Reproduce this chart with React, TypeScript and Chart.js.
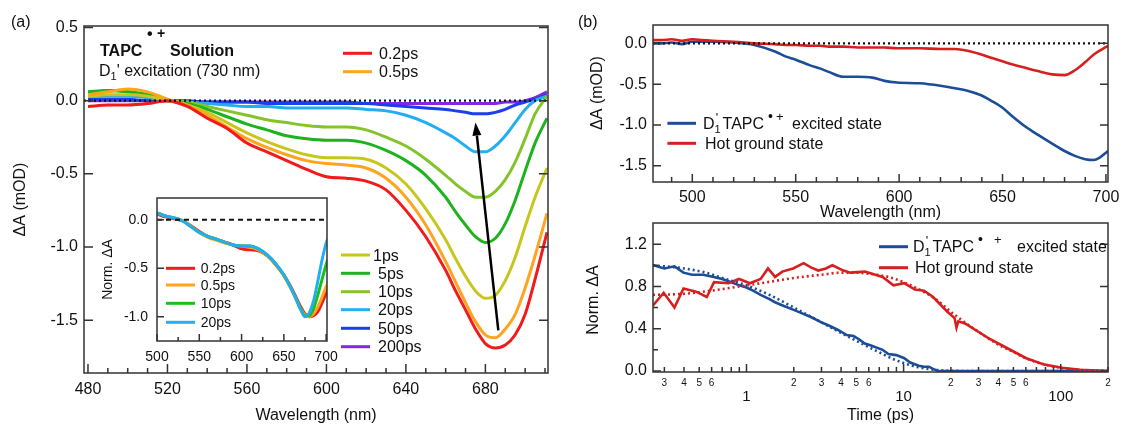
import React, { useEffect, useRef } from 'react';
import { Chart, registerables } from 'chart.js';

Chart.register(...registerables);

const FONT = '"Liberation Sans", Arial, Helvetica, sans-serif';
Chart.defaults.font.family = FONT;
Chart.defaults.color = '#111';

// ================= Panel (a): transient spectra =================
const WL_A = [480, 490, 500, 510, 520, 530, 540, 550, 560, 570, 580, 590, 600, 610, 620, 630, 640, 650, 660, 665, 670, 675, 680, 685, 690, 695, 700, 705, 711];
const A_02 = [-0.04, -0.03, -0.03, -0.02, 0.0, -0.04, -0.12, -0.19, -0.29, -0.35, -0.41, -0.47, -0.52, -0.53, -0.55, -0.61, -0.75, -0.93, -1.16, -1.3, -1.43, -1.56, -1.66, -1.69, -1.67, -1.6, -1.46, -1.22, -0.9];
const A_05 = [0.04, 0.06, 0.08, 0.06, 0.01, -0.03, -0.1, -0.18, -0.26, -0.32, -0.37, -0.41, -0.43, -0.44, -0.46, -0.53, -0.66, -0.85, -1.1, -1.24, -1.38, -1.51, -1.6, -1.62, -1.56, -1.46, -1.28, -1.06, -0.77];
const A_1 = [0.03, 0.04, 0.04, 0.03, 0.0, -0.03, -0.08, -0.15, -0.22, -0.28, -0.33, -0.37, -0.39, -0.39, -0.4, -0.46, -0.57, -0.74, -0.95, -1.08, -1.2, -1.3, -1.35, -1.33, -1.23, -1.07, -0.86, -0.66, -0.46];
const A_5 = [0.06, 0.07, 0.06, 0.04, 0.0, -0.02, -0.06, -0.11, -0.16, -0.2, -0.24, -0.26, -0.27, -0.27, -0.29, -0.34, -0.41, -0.51, -0.66, -0.76, -0.85, -0.93, -0.97, -0.94, -0.84, -0.68, -0.48, -0.29, -0.12];
const A_10 = [0.05, 0.07, 0.06, 0.04, 0.0, -0.01, -0.04, -0.07, -0.1, -0.13, -0.15, -0.17, -0.18, -0.18, -0.2, -0.25, -0.31, -0.4, -0.51, -0.57, -0.62, -0.66, -0.66, -0.62, -0.54, -0.42, -0.26, -0.09, 0.03];
const A_20 = [0.03, 0.03, 0.03, 0.02, 0.0, -0.01, -0.02, -0.03, -0.04, -0.04, -0.05, -0.05, -0.05, -0.05, -0.06, -0.07, -0.1, -0.15, -0.22, -0.26, -0.31, -0.35, -0.35, -0.31, -0.24, -0.15, -0.06, 0.0, 0.03];
const A_50 = [0.01, 0.01, 0.01, 0.0, 0.0, 0.0, -0.01, -0.01, -0.01, -0.02, -0.02, -0.02, -0.02, -0.02, -0.02, -0.03, -0.04, -0.05, -0.06, -0.07, -0.08, -0.09, -0.09, -0.08, -0.06, -0.03, -0.01, 0.01, 0.04];
const A_200 = [0.0, 0.0, 0.0, 0.0, 0.0, -0.01, -0.01, -0.01, -0.01, -0.01, -0.01, -0.01, -0.01, -0.01, -0.02, -0.02, -0.02, -0.02, -0.02, -0.02, -0.02, -0.02, -0.02, -0.02, -0.01, -0.01, 0.0, 0.02, 0.06];
const A_VALUES = [A_02, A_05, A_1, A_5, A_10, A_20, A_50, A_200];
const A_LABELS = ['0.2ps', '0.5ps', '1ps', '5ps', '10ps', '20ps', '50ps', '200ps'];
const A_COLORS = ['#f21a1a', '#ffa41f', '#c6c61c', '#1fb21f', '#84c42a', '#22aef0', '#1a3ef0', '#8426e4'];
const A_X_RANGE = [478, 711.5];
const A_Y_RANGE = [-1.861, 0.51];
const A_X_TICKS = [480, 520, 560, 600, 640, 680];
const A_X_MINOR = [490, 500, 510, 530, 540, 550, 570, 580, 590, 610, 620, 630, 650, 660, 670, 690, 700, 710];
const A_Y_TICKS = [0.5, 0, -0.5, -1, -1.5];
const A_ARROW_TAIL = [686.5, -1.57];
const A_ARROW_HEAD = [675, -0.15];

// ================= Inset: normalized spectra =================
const WL_I = [500, 510, 520, 530, 540, 550, 560, 570, 580, 590, 600, 610, 620, 630, 640, 650, 660, 665, 670, 675, 680, 685, 690, 695, 700, 703];
const I_02 = [0.06, 0.03, 0.01, -0.01, -0.06, -0.12, -0.17, -0.2, -0.23, -0.26, -0.3, -0.31, -0.32, -0.37, -0.46, -0.57, -0.72, -0.81, -0.9, -0.97, -1.0, -0.99, -0.95, -0.86, -0.76, -0.7];
const I_05 = [0.07, 0.04, 0.02, -0.01, -0.06, -0.13, -0.18, -0.21, -0.24, -0.26, -0.27, -0.28, -0.31, -0.37, -0.46, -0.58, -0.74, -0.83, -0.92, -0.98, -1.0, -0.97, -0.9, -0.8, -0.69, -0.64];
const I_10 = [0.07, 0.04, 0.02, -0.01, -0.07, -0.13, -0.17, -0.2, -0.23, -0.26, -0.27, -0.27, -0.3, -0.36, -0.45, -0.57, -0.73, -0.82, -0.92, -0.99, -0.99, -0.92, -0.78, -0.62, -0.46, -0.38];
const I_20 = [0.07, 0.04, 0.02, -0.01, -0.07, -0.13, -0.17, -0.2, -0.23, -0.26, -0.27, -0.27, -0.3, -0.36, -0.45, -0.57, -0.73, -0.83, -0.93, -1.0, -0.96, -0.84, -0.64, -0.42, -0.24, -0.18];
const I_VALUES = [I_02, I_05, I_10, I_20];
const I_LABELS = ['0.2ps', '0.5ps', '10ps', '20ps'];
const I_COLORS = ['#f21a1a', '#ffa41f', '#18c018', '#22aef0'];
const I_X_RANGE = [500, 701];
const I_Y_RANGE = [-1.25, 0.225];
const I_X_TICKS = [500, 550, 600, 650, 700];
const I_X_MINOR = [525, 575, 625, 675];
const I_Y_TICKS = [0, -0.5, -1];

// ================= Panel (b) top: decomposed spectra =================
const WL_B = [481, 485, 490, 495, 500, 505, 510, 520, 530, 540, 545, 550, 557, 562, 566, 573, 580, 587, 593, 599, 610, 620, 627, 633, 639, 645, 650, 655, 661, 667, 674, 680, 685, 690, 694, 697, 701];
const B_EXCITED = [0.0, 0.0, 0.01, -0.01, 0.02, 0.02, 0.02, 0.01, -0.02, -0.1, -0.16, -0.2, -0.27, -0.31, -0.35, -0.41, -0.41, -0.42, -0.46, -0.48, -0.49, -0.52, -0.55, -0.58, -0.63, -0.71, -0.79, -0.9, -1.02, -1.12, -1.23, -1.32, -1.38, -1.42, -1.43, -1.4, -1.32];
const B_HOT = [0.04, 0.04, 0.05, 0.03, 0.05, 0.04, 0.03, 0.02, 0.0, -0.01, -0.02, -0.02, -0.03, -0.03, -0.04, -0.04, -0.05, -0.05, -0.05, -0.06, -0.06, -0.07, -0.07, -0.09, -0.13, -0.18, -0.22, -0.26, -0.3, -0.34, -0.38, -0.39, -0.33, -0.23, -0.14, -0.09, -0.03];
const B_X_RANGE = [481, 701];
const B_Y_RANGE = [-1.7, 0.225];
const B_X_TICKS = [500, 550, 600, 650, 700];
const B_X_MINOR = [490, 510, 520, 530, 540, 560, 570, 580, 590, 610, 620, 630, 640, 660, 670, 680, 690];
const B_Y_TICKS = [0, -0.5, -1, -1.5];
const B_BLUE = '#1c4d98';
const B_RED = '#d81f1f';

// ================= Panel (b) bottom: kinetics =================
const T_EXC = [0.254, 0.3, 0.348, 0.397, 0.45, 0.53, 0.62, 0.7, 0.8, 0.9, 1.0, 1.1, 1.23, 1.4, 1.52, 1.7, 1.98, 2.3, 2.57, 3.0, 3.34, 3.8, 4.35, 4.8, 5.2, 5.66, 6.2, 7.35, 8.0, 9.0, 10.1, 11.0, 12.5, 13.5, 14.5, 15.4, 16.5, 30, 60, 120, 200];
const V_EXC = [1.0, 0.97, 0.99, 0.93, 0.91, 0.91, 0.89, 0.87, 0.84, 0.81, 0.79, 0.76, 0.72, 0.68, 0.65, 0.62, 0.58, 0.54, 0.51, 0.46, 0.43, 0.39, 0.34, 0.33, 0.3, 0.26, 0.24, 0.2, 0.16, 0.15, 0.12, 0.08, 0.05, 0.04, 0.04, 0.02, 0.0, 0.0, 0.0, 0.0, 0.0];
const T_EXC_FIT = [0.254, 0.4, 0.55, 0.7, 1.0, 1.4, 2.0, 3.0, 4.5, 6.5, 9, 12, 16, 25, 200];
const V_EXC_FIT = [1.0, 0.97, 0.93, 0.88, 0.81, 0.72, 0.6, 0.46, 0.32, 0.2, 0.1, 0.04, 0.01, 0.0, 0.0];
const T_HOT = [0.254, 0.297, 0.348, 0.397, 0.477, 0.559, 0.621, 0.766, 0.897, 1.05, 1.23, 1.37, 1.52, 1.69, 1.98, 2.31, 2.57, 2.86, 3.2, 3.52, 4.14, 4.58, 5.66, 7.35, 8.62, 10.1, 11.8, 13.5, 15.4, 19.0, 21.1, 21.7, 22.3, 24.6, 35.6, 46.4, 60.4, 78.6, 102, 133, 200];
const V_HOT = [0.62, 0.74, 0.6, 0.78, 0.75, 0.7, 0.84, 0.83, 0.87, 0.83, 0.87, 0.97, 0.89, 0.94, 0.97, 1.02, 0.98, 0.95, 0.97, 1.0, 0.95, 0.93, 0.94, 0.89, 0.81, 0.83, 0.77, 0.76, 0.7, 0.56, 0.5, 0.41, 0.47, 0.45, 0.3, 0.21, 0.12, 0.06, 0.03, 0.01, 0.0];
const T_HOT_FIT = [0.254, 0.4, 0.6, 1.0, 1.5, 2, 3, 4, 5, 6, 8, 10, 13, 16, 20, 25, 30, 40, 50, 60, 80, 100, 130, 200];
const V_HOT_FIT = [0.72, 0.73, 0.76, 0.81, 0.85, 0.88, 0.91, 0.93, 0.93, 0.92, 0.89, 0.84, 0.76, 0.68, 0.56, 0.45, 0.37, 0.25, 0.18, 0.12, 0.06, 0.03, 0.01, 0.0];
const T_RANGE = [0.254, 200];
const N_RANGE = [-0.01, 1.4];
const T_MAJOR = [1, 10, 100];
const T_MAJOR_LABELS = ['1', '10', '100'];
const T_MINOR = [0.3, 0.4, 0.5, 0.6, 0.7, 0.8, 0.9, 2, 3, 4, 5, 6, 7, 8, 9, 20, 30, 40, 50, 60, 70, 80, 90, 200];
const T_MINOR_LABELS = ['3', '4', '5', '6', '', '', '', '2', '3', '4', '5', '6', '', '', '', '2', '3', '4', '5', '6', '', '', '', '2'];
const N_Y_TICKS = [0, 0.4, 0.8, 1.2];
const N_Y_MINOR = [0.2, 0.6, 1.0];

// ================= helpers =================
const pts = (xs: number[], ys: number[]) => xs.map((x, i) => ({ x, y: ys[i] }));

const framePlugin = (o: any) => ({
  id: 'frame',
  afterDraw(chart: any) {
    const { ctx } = chart;
    const { left, right, top, bottom } = chart.chartArea;
    const xs = chart.scales.x;
    const ys = chart.scales.y;
    ctx.save();
    ctx.strokeStyle = '#333';
    ctx.lineWidth = 1.5;
    ctx.strokeRect(left, top, right - left, bottom - top);
    ctx.beginPath();
    const seg = (a: number, b: number, c: number, d: number) => { ctx.moveTo(a, b); ctx.lineTo(c, d); };
    (o.xMajor || []).forEach((v: number) => { const p = xs.getPixelForValue(v); seg(p, bottom, p, bottom - o.maj); });
    (o.xMinor || []).forEach((v: number) => { const p = xs.getPixelForValue(v); seg(p, bottom, p, bottom - o.min); });
    (o.yMajor || []).forEach((v: number) => { const p = ys.getPixelForValue(v); seg(left, p, left + o.maj, p); });
    (o.yMinor || []).forEach((v: number) => { const p = ys.getPixelForValue(v); seg(left, p, left + o.min, p); });
    (o.yMirror || []).forEach((v: number) => { const p = ys.getPixelForValue(v); seg(right, p, right - o.maj, p); });
    ctx.stroke();
    ctx.restore();
  },
});

type Run = { t: string; s?: number; b?: boolean; dy?: number; dx?: number };
function runs(ctx: CanvasRenderingContext2D, x: number, y: number, list: Run[]) {
  let cx = x;
  ctx.textAlign = 'left';
  ctx.textBaseline = 'alphabetic';
  ctx.fillStyle = '#111';
  for (const r of list) {
    cx += r.dx || 0;
    ctx.font = `${r.b ? 'bold ' : ''}${r.s || 16}px ${FONT}`;
    ctx.fillText(r.t, cx, y + (r.dy || 0));
    cx += ctx.measureText(r.t).width;
  }
}

function legendLine(ctx: CanvasRenderingContext2D, x1: number, x2: number, y: number, color: string, w = 3) {
  ctx.strokeStyle = color;
  ctx.lineWidth = w;
  ctx.beginPath();
  ctx.moveTo(x1, y);
  ctx.lineTo(x2, y);
  ctx.stroke();
}

function vText(ctx: CanvasRenderingContext2D, t: string, x: number, y: number, size = 16) {
  ctx.save();
  ctx.translate(x, y);
  ctx.rotate(-Math.PI / 2);
  ctx.font = `${size}px ${FONT}`;
  ctx.fillStyle = '#111';
  ctx.textAlign = 'center';
  ctx.textBaseline = 'middle';
  ctx.fillText(t, 0, 0);
  ctx.restore();
}

const EXC_LABEL = (wide: boolean): Run[] => [
  { t: 'D' }, { t: '1', s: 11, dy: 4 }, { t: "'", s: 13, dy: -7, dx: -5 }, { t: ' TAPC' },
  { t: '•', s: 14, dy: -8, dx: 4 }, { t: '+', s: 13, dy: -8, dx: wide ? 11 : 3 }, { t: ' excited state', dx: wide ? 11 : 4 },
];

const baseOpts = (padding: any) => ({
  animation: false,
  responsive: false,
  devicePixelRatio: 1,
  layout: { padding },
  plugins: { legend: { display: false }, tooltip: { enabled: false } },
  elements: { point: { radius: 0 } },
});

const NO_GRID = { display: false, drawTicks: false, drawOnChartArea: false };

const linX = (range: number[], ticks: number[], height: number, pad: number, size: number, title?: any) => ({
  type: 'linear',
  min: range[0],
  max: range[1],
  grid: NO_GRID,
  border: { display: false },
  afterBuildTicks: (s: any) => { s.ticks = ticks.map((v) => ({ value: v })); },
  afterFit: (s: any) => { s.height = height; s.paddingLeft = 0; s.paddingRight = 0; },
  ticks: { padding: pad, autoSkip: false, maxRotation: 0, font: { size }, color: '#111', callback: (v: any) => String(v) },
  title: title || { display: false },
});

const linY = (range: number[], ticks: number[], width: number, pad: number, size: number, title?: any) => ({
  type: 'linear',
  min: range[0],
  max: range[1],
  grid: NO_GRID,
  border: { display: false },
  afterBuildTicks: (s: any) => { s.ticks = ticks.map((v) => ({ value: v })); },
  afterFit: (s: any) => { s.width = width; s.paddingTop = 0; s.paddingBottom = 0; },
  ticks: { padding: pad, autoSkip: false, font: { size }, color: '#111', callback: (v: any) => Number(v).toFixed(1) },
  title: title || { display: false },
});

// ================= chart builders =================
function buildA() {
  const series = A_VALUES.map((vals, k) => ({
    label: A_LABELS[k],
    data: pts(WL_A, vals),
    borderColor: A_COLORS[k],
    borderWidth: 3,
    pointRadius: 0,
    cubicInterpolationMode: 'monotone',
  }));
  const zero = {
    label: 'zero', data: pts(A_X_RANGE, [0, 0]), borderColor: '#111', borderWidth: 2.2, borderDash: [2, 3], pointRadius: 0,
  };
  const annot = {
    id: 'annotA',
    afterDraw(chart: any) {
      const ctx = chart.ctx as CanvasRenderingContext2D;
      const xs = chart.scales.x;
      const ys = chart.scales.y;
      ctx.save();
      runs(ctx, 11, 27, [{ t: '(a)' }]);
      runs(ctx, 100, 56, [{ t: 'TAPC', b: true }]);
      runs(ctx, 147, 39, [{ t: '•', b: true, s: 16 }]);
      runs(ctx, 157, 38, [{ t: '+', b: true, s: 14 }]);
      runs(ctx, 170, 56, [{ t: 'Solution', b: true }]);
      runs(ctx, 99, 76, [{ t: 'D' }, { t: '1', s: 11, dy: 4 }, { t: "' excitation (730 nm)" }]);
      const upper = [53.3, 71.7];
      upper.forEach((y, i) => {
        legendLine(ctx, 343, 372, y, A_COLORS[i]);
        runs(ctx, 379, y + 5.7, [{ t: A_LABELS[i] }]);
      });
      const lower = [255, 273.3, 291.7, 309.7, 328.3, 346.7];
      lower.forEach((y, i) => {
        legendLine(ctx, 341, 370, y, A_COLORS[i + 2]);
        runs(ctx, i === 0 ? 373 : 378, y + 5.7, [{ t: A_LABELS[i + 2] }]);
      });
      const x1 = xs.getPixelForValue(A_ARROW_TAIL[0]);
      const y1 = ys.getPixelForValue(A_ARROW_TAIL[1]);
      const x2 = xs.getPixelForValue(A_ARROW_HEAD[0]);
      const y2 = ys.getPixelForValue(A_ARROW_HEAD[1]);
      const ang = Math.atan2(y2 - y1, x2 - x1);
      const hl = 13;
      const hw = 4.5;
      const bx = x2 - hl * Math.cos(ang);
      const by = y2 - hl * Math.sin(ang);
      ctx.strokeStyle = '#000';
      ctx.fillStyle = '#000';
      ctx.lineWidth = 2.5;
      ctx.beginPath();
      ctx.moveTo(x1, y1);
      ctx.lineTo(bx, by);
      ctx.stroke();
      ctx.beginPath();
      ctx.moveTo(x2, y2);
      ctx.lineTo(bx + hw * Math.sin(ang), by - hw * Math.cos(ang));
      ctx.lineTo(bx - hw * Math.sin(ang), by + hw * Math.cos(ang));
      ctx.closePath();
      ctx.fill();
      ctx.restore();
    },
  };
  return {
    type: 'line',
    data: { datasets: [zero, ...series] },
    options: {
      ...baseOpts({ top: 26, right: 12, left: 0, bottom: 0 }),
      scales: {
        x: linX(A_X_RANGE, A_X_TICKS, 52, 7, 16, { display: true, text: 'Wavelength (nm)', font: { size: 16 }, color: '#111', padding: { top: 0, bottom: 0 } }),
        y: linY(A_Y_RANGE, A_Y_TICKS, 84, 6, 16, { display: true, text: 'ΔA (mOD)', font: { size: 16 }, color: '#111', padding: { top: 11, bottom: 0 } }),
      },
    },
    plugins: [framePlugin({ xMajor: A_X_TICKS, xMinor: A_X_MINOR, yMajor: A_Y_TICKS, yMirror: A_Y_TICKS, maj: 9, min: 5 }), annot],
  };
}

function buildInset() {
  const series = I_VALUES.map((vals, k) => ({
    label: I_LABELS[k],
    data: pts(WL_I, vals),
    borderColor: I_COLORS[k],
    borderWidth: 3,
    pointRadius: 0,
    cubicInterpolationMode: 'monotone',
  }));
  const zero = {
    label: 'zero', data: pts(I_X_RANGE, [0, 0]), borderColor: '#111', borderWidth: 2, borderDash: [5, 4], pointRadius: 0,
  };
  const annot = {
    id: 'annotI',
    afterDraw(chart: any) {
      const ctx = chart.ctx as CanvasRenderingContext2D;
      ctx.save();
      const ys = [88.3, 105, 123.3, 142.3];
      ys.forEach((y, i) => {
        legendLine(ctx, 66, 95, y, I_COLORS[i]);
        runs(ctx, 100.7, y + 5, [{ t: I_LABELS[i], s: 14 }]);
      });
      ctx.restore();
    },
  };
  return {
    type: 'line',
    data: { datasets: [zero, ...series.reverse()] },
    options: {
      ...baseOpts({ top: 18, right: 13, left: 0, bottom: 0 }),
      scales: {
        x: linX(I_X_RANGE, I_X_TICKS, 39, 7.6, 14),
        y: linY(I_Y_RANGE, I_Y_TICKS, 57, 9, 14, { display: true, text: 'Norm. ΔA', font: { size: 14 }, color: '#111', padding: { top: 0, bottom: 0 } }),
      },
    },
    plugins: [framePlugin({ xMajor: I_X_TICKS, xMinor: I_X_MINOR, yMajor: I_Y_TICKS, maj: 7, min: 4 }), annot],
  };
}

function buildBTop() {
  const zero = {
    label: 'zero', data: pts(B_X_RANGE, [0, 0]), borderColor: '#111', borderWidth: 2.2, borderDash: [2, 3], pointRadius: 0,
  };
  const exc = { label: 'excited', data: pts(WL_B, B_EXCITED), borderColor: B_BLUE, borderWidth: 2.6, pointRadius: 0, cubicInterpolationMode: 'monotone' };
  const hot = { label: 'hot', data: pts(WL_B, B_HOT), borderColor: B_RED, borderWidth: 2.6, pointRadius: 0, cubicInterpolationMode: 'monotone' };
  const annot = {
    id: 'annotBT',
    afterDraw(chart: any) {
      const ctx = chart.ctx as CanvasRenderingContext2D;
      ctx.save();
      runs(ctx, 18, 27, [{ t: '(b)' }]);
      vText(ctx, 'ΔA (mOD)', 37.4, 93);
      legendLine(ctx, 107.4, 136, 123.3, B_BLUE);
      runs(ctx, 143, 123.3 + 5.7, EXC_LABEL(false));
      legendLine(ctx, 107.4, 136, 143.3, B_RED);
      runs(ctx, 145, 143.3 + 5.7, [{ t: 'Hot ground state' }]);
      ctx.restore();
    },
  };
  return {
    type: 'line',
    data: { datasets: [zero, hot, exc] },
    options: {
      ...baseOpts({ top: 25, right: 14, left: 0, bottom: 0 }),
      scales: {
        x: linX(B_X_RANGE, B_X_TICKS, 42, 6, 16, { display: true, text: 'Wavelength (nm)', font: { size: 16 }, color: '#111', padding: { top: 0, bottom: 2 } }),
        y: linY(B_Y_RANGE, B_Y_TICKS, 93, 6, 16),
      },
    },
    plugins: [framePlugin({ xMajor: B_X_TICKS, xMinor: B_X_MINOR, yMajor: B_Y_TICKS, yMirror: B_Y_TICKS, maj: 8, min: 5 }), annot],
  };
}

function buildBBot() {
  const exc = { label: 'excited', data: pts(T_EXC, V_EXC), borderColor: B_BLUE, borderWidth: 2.6, pointRadius: 0 };
  const excFit = { label: 'excited fit', data: pts(T_EXC_FIT, V_EXC_FIT), borderColor: B_BLUE, borderWidth: 2.6, borderDash: [2, 3], pointRadius: 0, cubicInterpolationMode: 'monotone' };
  const hot = { label: 'hot', data: pts(T_HOT, V_HOT), borderColor: B_RED, borderWidth: 2.6, pointRadius: 0 };
  const hotFit = { label: 'hot fit', data: pts(T_HOT_FIT, V_HOT_FIT), borderColor: B_RED, borderWidth: 2.6, borderDash: [2, 3], pointRadius: 0, cubicInterpolationMode: 'monotone' };
  const annot = {
    id: 'annotBB',
    afterDraw(chart: any) {
      const ctx = chart.ctx as CanvasRenderingContext2D;
      const xs = chart.scales.x;
      const bottom = chart.chartArea.bottom;
      ctx.save();
      // log-axis labels: small digits for minor ticks, larger numbers for decades
      ctx.fillStyle = '#111';
      ctx.textAlign = 'center';
      ctx.textBaseline = 'middle';
      ctx.font = `10px ${FONT}`;
      T_MINOR.forEach((v, i) => {
        if (T_MINOR_LABELS[i]) ctx.fillText(T_MINOR_LABELS[i], xs.getPixelForValue(v), bottom + 11.5);
      });
      ctx.font = `15px ${FONT}`;
      T_MAJOR.forEach((v, i) => ctx.fillText(T_MAJOR_LABELS[i], xs.getPixelForValue(v), bottom + 25));
      vText(ctx, 'Norm. ΔA', 34, 100);
      legendLine(ctx, 319, 348, 46.7, B_BLUE);
      runs(ctx, 353, 46.7 + 5.7, EXC_LABEL(true));
      legendLine(ctx, 319, 348, 67.7, B_RED);
      runs(ctx, 355, 67.7 + 5.7, [{ t: 'Hot ground state' }]);
      ctx.restore();
    },
  };
  return {
    type: 'line',
    data: { datasets: [excFit, hotFit, hot, exc] },
    options: {
      ...baseOpts({ top: 23, right: 14, left: 0, bottom: 0 }),
      scales: {
        x: {
          type: 'logarithmic',
          min: T_RANGE[0],
          max: T_RANGE[1],
          grid: NO_GRID,
          border: { display: false },
          afterFit: (s: any) => { s.height = 53; s.paddingLeft = 0; s.paddingRight = 0; },
          ticks: { display: false },
          title: { display: true, text: 'Time (ps)', font: { size: 16 }, color: '#111', padding: { top: 0, bottom: 0 } },
        },
        y: linY(N_RANGE, N_Y_TICKS, 93, 6, 16),
      },
    },
    plugins: [framePlugin({ xMajor: T_MAJOR, xMinor: T_MINOR, yMajor: N_Y_TICKS, yMinor: N_Y_MINOR, yMirror: N_Y_TICKS, maj: 8, min: 5 }), annot],
  };
}

function ChartCanvas({ left, top, width, height, build }: any) {
  const ref = useRef<HTMLCanvasElement>(null);
  useEffect(() => {
    const chart = new Chart(ref.current as HTMLCanvasElement, build() as any);
    return () => chart.destroy();
  }, []);
  return (
    <canvas
      ref={ref}
      width={width}
      height={height}
      style={{ position: 'absolute', left, top, width, height }}
    />
  );
}

export default function App() {
  return (
    <div style={{ position: 'absolute', left: 0, top: 0, width: 1122, height: 425, background: '#fff', overflow: 'hidden' }}>
      <ChartCanvas left={0} top={0} width={560} height={425} build={buildA} />
      <ChartCanvas left={100} top={180} width={240} height={200} build={buildInset} />
      <ChartCanvas left={560} top={0} width={562} height={224} build={buildBTop} />
      <ChartCanvas left={560} top={200} width={562} height={225} build={buildBBot} />
    </div>
  );
}
